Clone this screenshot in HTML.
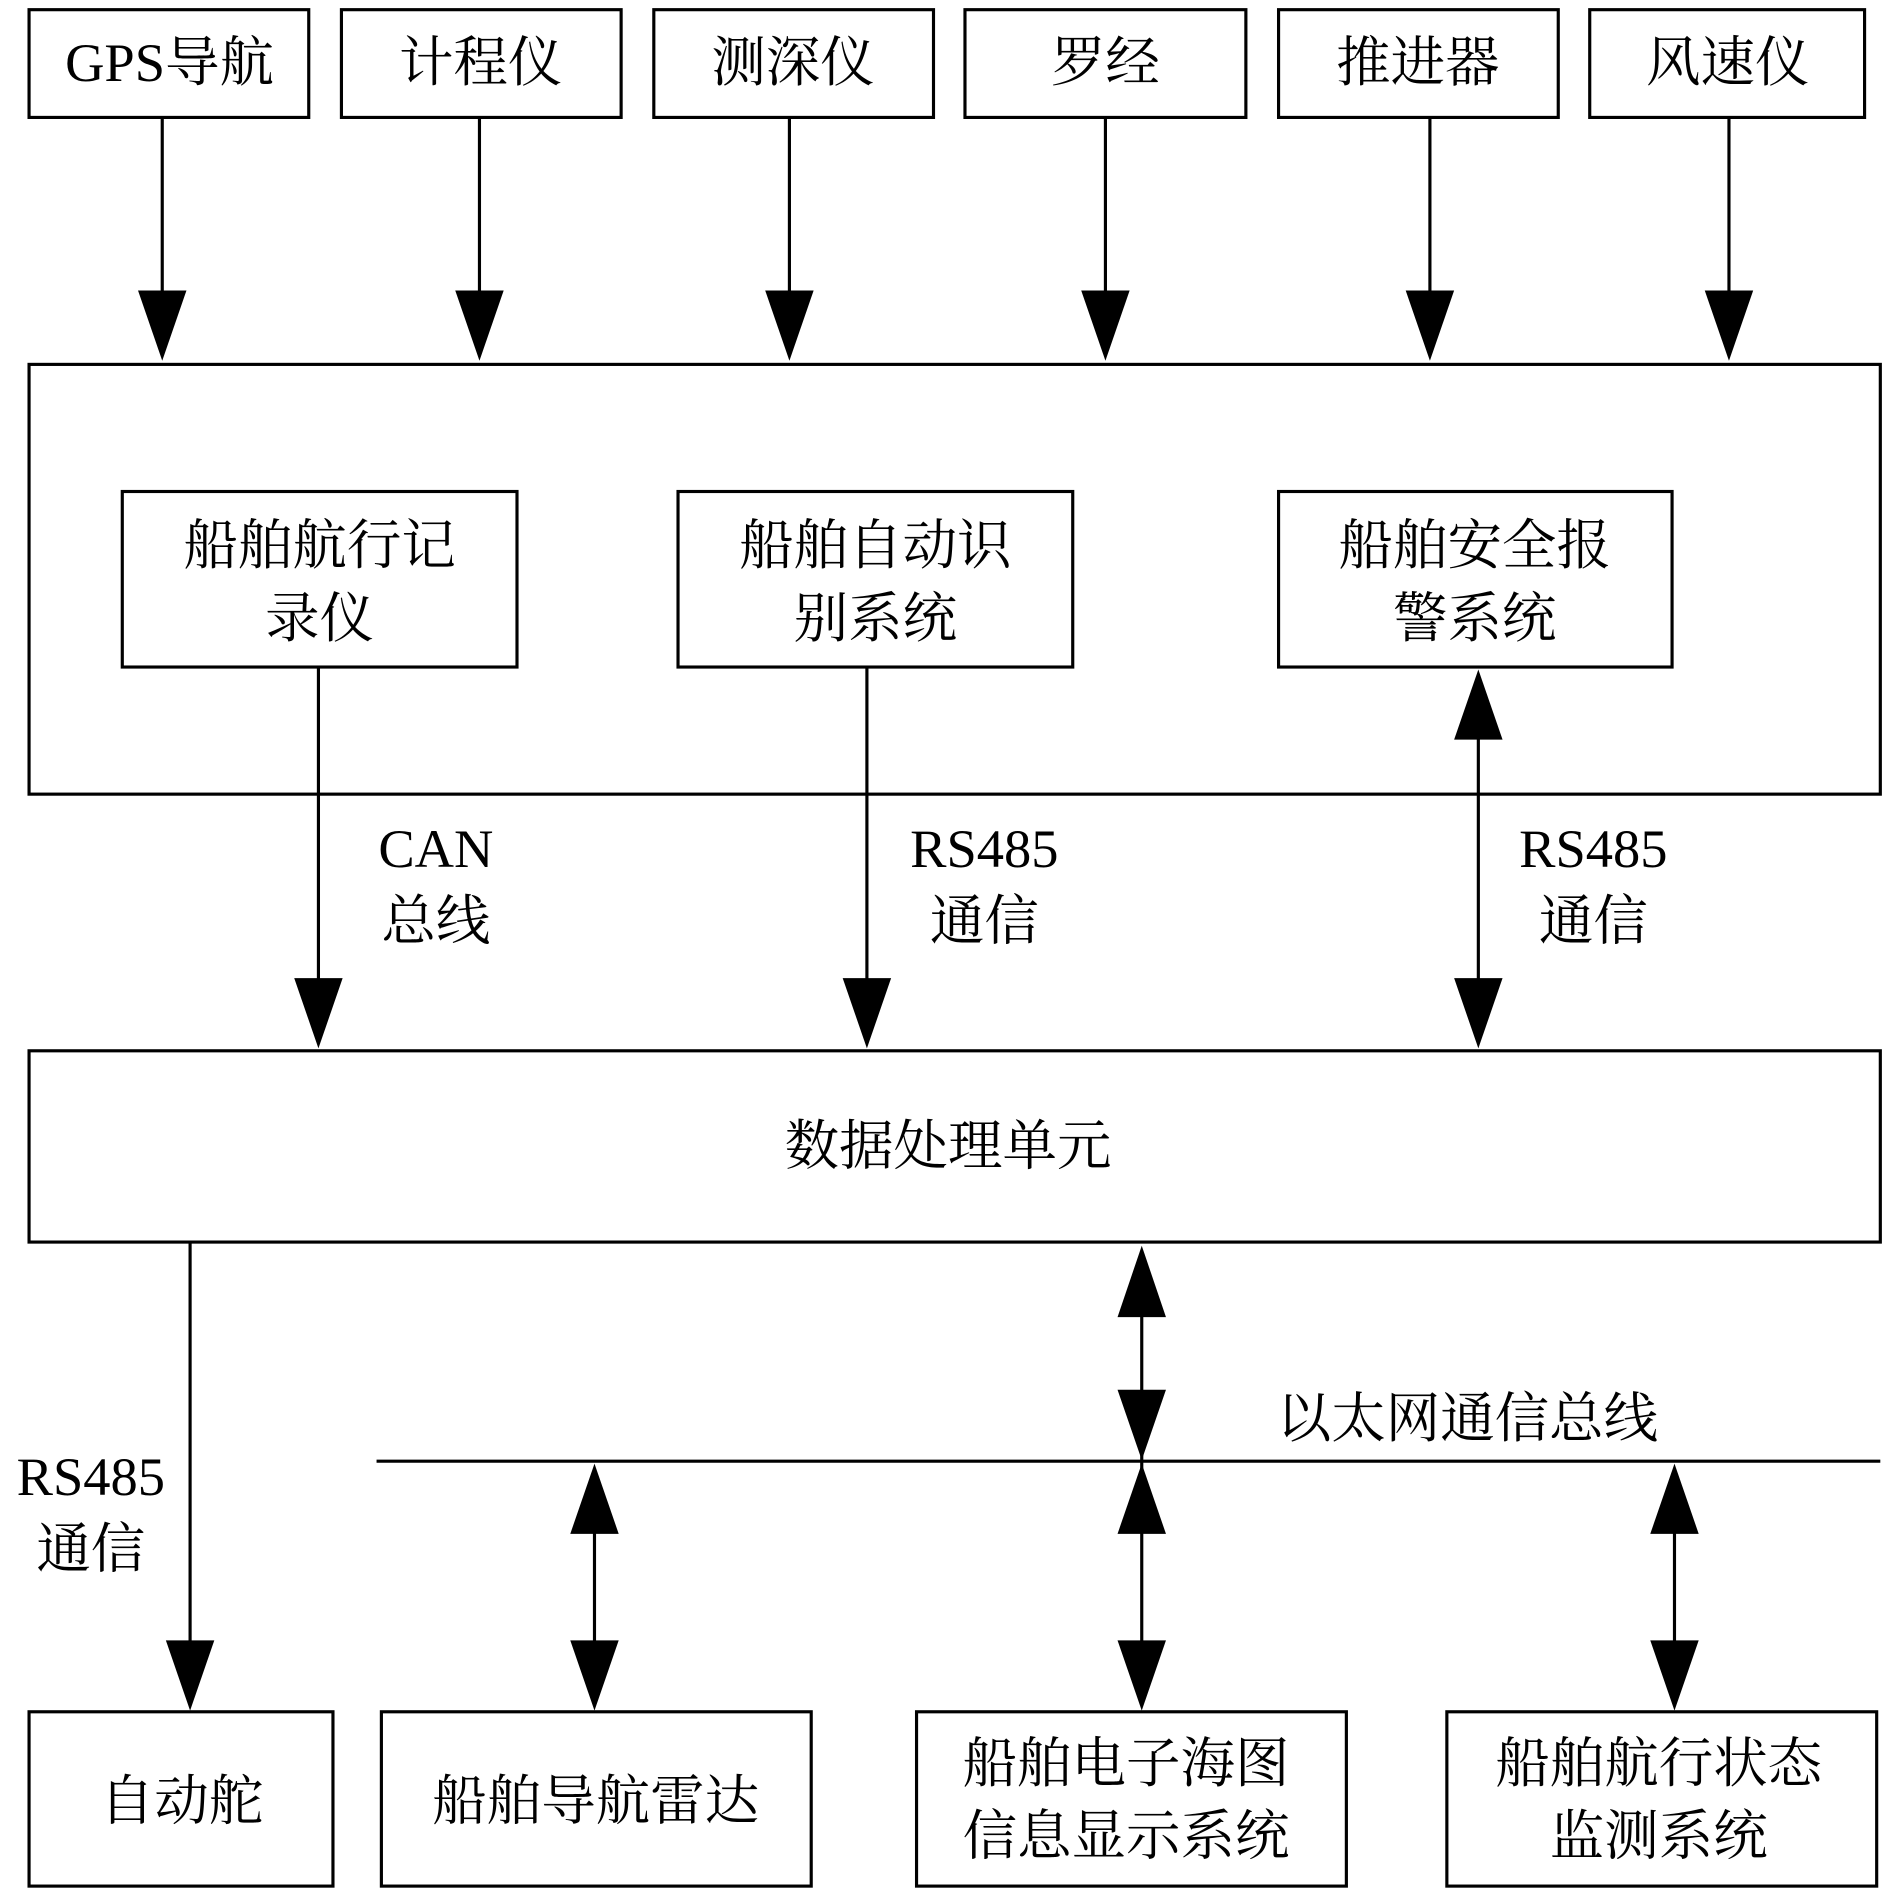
<!DOCTYPE html>
<html><head><meta charset="utf-8"><style>
html,body{margin:0;padding:0;background:#fff;}
svg{display:block;}
text{font-family:"Liberation Serif","Noto Serif CJK SC",serif;font-size:45px;fill:#000;text-anchor:middle;}
</style></head><body>
<svg width="1890" height="1897" viewBox="0 0 1561 1567" preserveAspectRatio="none" xmlns="http://www.w3.org/2000/svg">
<g fill="none" stroke="#000" stroke-width="2.6">
<rect x="24" y="8" width="231" height="89"/>
<rect x="282" y="8" width="231" height="89"/>
<rect x="540" y="8" width="231" height="89"/>
<rect x="797" y="8" width="232" height="89"/>
<rect x="1056" y="8" width="231" height="89"/>
<rect x="1313" y="8" width="227" height="89"/>
<rect x="24" y="301" width="1529" height="355"/>
<rect x="101" y="406" width="326" height="145"/>
<rect x="560" y="406" width="326" height="145"/>
<rect x="1056" y="406" width="325" height="145"/>
<rect x="24" y="868" width="1529" height="158"/>
<rect x="24" y="1414" width="251" height="144"/>
<rect x="315" y="1414" width="355" height="144"/>
<rect x="757" y="1414" width="355" height="144"/>
<rect x="1195" y="1414" width="355" height="144"/>
<path d="M134 97V250M396 97V250M652 97V250M913 97V250M1181 97V250M1428 97V250"/>
<path d="M263 551V820M716 551V820M1221 600V820"/>
<path d="M157 1026V1365M311 1207H1553M943 1075V1360M491 1255V1360M1383 1255V1360"/>
</g>
<g fill="#000">
<path d="M114 240L154 240L134 298Z"/><path d="M376 240L416 240L396 298Z"/><path d="M632 240L672 240L652 298Z"/>
<path d="M893 240L933 240L913 298Z"/><path d="M1161 240L1201 240L1181 298Z"/><path d="M1408 240L1448 240L1428 298Z"/>
<path d="M243 808L283 808L263 866Z"/><path d="M696 808L736 808L716 866Z"/><path d="M1201 808L1241 808L1221 866Z"/>
<path d="M1201 611L1241 611L1221 553Z"/>
<path d="M137 1355L177 1355L157 1413Z"/>
<path d="M923 1088L963 1088L943 1029Z"/><path d="M923 1148L963 1148L943 1206Z"/>
<path d="M923 1267L963 1267L943 1209Z"/><path d="M923 1355L963 1355L943 1413Z"/>
<path d="M471 1267L511 1267L491 1209Z"/><path d="M471 1355L511 1355L491 1413Z"/>
<path d="M1363 1267L1403 1267L1383 1209Z"/><path d="M1363 1355L1403 1355L1383 1413Z"/>
</g>
<text x="140" y="67">GPS导航</text>
<text x="397" y="67">计程仪</text>
<text x="655" y="67">测深仪</text>
<text x="913" y="67">罗经</text>
<text x="1171" y="67">推进器</text>
<text x="1427" y="67">风速仪</text>
<text x="264" y="466">船舶航行记</text><text x="264" y="526">录仪</text>
<text x="723" y="466">船舶自动识</text><text x="723" y="526">别系统</text>
<text x="1218" y="466">船舶安全报</text><text x="1218" y="526">警系统</text>
<text x="360" y="716">CAN</text><text x="360" y="776">总线</text>
<text x="813" y="716">RS485</text><text x="813" y="776">通信</text>
<text x="1316" y="716">RS485</text><text x="1316" y="776">通信</text>
<text x="783" y="962">数据处理单元</text>
<text x="1212" y="1187">以太网通信总线</text>
<text x="75" y="1235">RS485</text><text x="75" y="1295">通信</text>
<text x="150" y="1503">自动舵</text>
<text x="492" y="1503">船舶导航雷达</text>
<text x="930" y="1472">船舶电子海图</text><text x="930" y="1532">信息显示系统</text>
<text x="1370" y="1472">船舶航行状态</text><text x="1370" y="1532">监测系统</text>
</svg>
</body></html>
